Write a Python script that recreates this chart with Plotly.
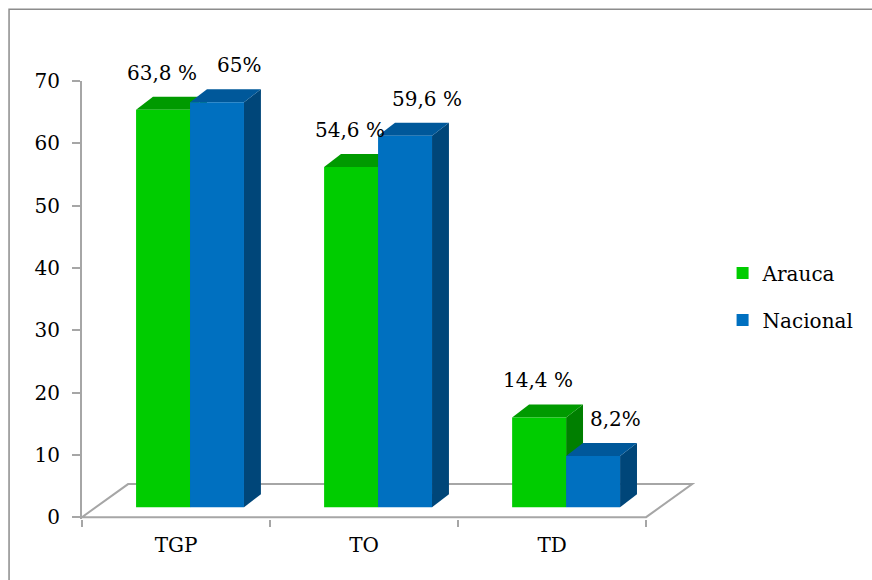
import plotly.graph_objects as go

# Labour-market rates: Arauca vs national average
categories = ["TGP", "TO", "TD"]
arauca = [63.8, 54.6, 14.4]
nacional = [65.0, 59.6, 8.2]
arauca_labels = ["63,8 %", "54,6 %", "14,4 %"]
nacional_labels = ["65%", "59,6 %", "8,2%"]
y_ticks = [0, 10, 20, 30, 40, 50, 60, 70]

FONT = "DejaVu Serif"
FSIZE = 20

# pseudo-3D geometry (axis units)
BAR_W = 0.287          # width of one bar face, in category units
SHIFT = 0.0745         # bars sit mid-depth on the floor, shifted right
LIFT = 1.6             # ... and lifted up (value units)
DX, DY = 0.09, 2.09    # bar depth projection
FDX, FDY = 0.245, 5.3  # floor depth projection

series = [
    dict(name="Arauca", values=arauca, labels=arauca_labels, offset=SHIFT - BAR_W,
         front="#00CC00", top="#009A00", side="#007F00", label_dx=-1),
    dict(name="Nacional", values=nacional, labels=nacional_labels, offset=SHIFT,
         front="#0070C0", top="#00589A", side="#004679", label_dx=22),
]

fig = go.Figure()
shapes = []
annotations = []

# floor parallelogram
n = len(categories)
fx0, fx1 = -0.5, n - 0.5
shapes.append(dict(
    type="path", xref="x", yref="y", layer="below",
    path=f"M{fx0},0 L{fx1},0 L{fx1 + FDX},{FDY} L{fx0 + FDX},{FDY} Z",
    line=dict(color="#A6A6A6", width=2), fillcolor="rgba(0,0,0,0)",
))

for s in series:
    fig.add_trace(go.Bar(
        x=categories, y=s["values"], base=LIFT, width=BAR_W, offset=s["offset"],
        name=s["name"], legendgroup=s["name"],
        marker=dict(color=s["front"], line=dict(width=0)),
        hoverinfo="skip",
    ))
    for i, (v, lab) in enumerate(zip(s["values"], s["labels"])):
        x0 = i + s["offset"]
        x1 = x0 + BAR_W
        y0 = LIFT
        y1 = LIFT + v
        # side face
        shapes.append(dict(
            type="path", xref="x", yref="y", layer="below",
            path=f"M{x1},{y0} L{x1 + DX},{y0 + DY} L{x1 + DX},{y1 + DY} L{x1},{y1} Z",
            fillcolor=s["side"], line=dict(width=0),
        ))
        # top face
        shapes.append(dict(
            type="path", xref="x", yref="y", layer="below",
            path=f"M{x0},{y1} L{x1},{y1} L{x1 + DX},{y1 + DY} L{x0 + DX},{y1 + DY} Z",
            fillcolor=s["top"], line=dict(width=0),
        ))
        annotations.append(dict(
            x=(x0 + x1) / 2, y=y1, xref="x", yref="y",
            text=lab, showarrow=False, yanchor="middle",
            xshift=s["label_dx"], yshift=37,
            font=dict(family=FONT, size=FSIZE, color="black"),
        ))

# outer chart border
shapes.append(dict(
    type="rect", xref="paper", yref="paper", layer="above",
    x0=-0.119, x1=1.4, y0=-0.3, y1=1.164,
    line=dict(color="#8C8C8C", width=1.5), fillcolor="rgba(0,0,0,0)",
))

fig.update_layout(
    width=872, height=580,
    margin=dict(l=82, r=177, t=81, b=61, autoexpand=False),
    paper_bgcolor="white", plot_bgcolor="white",
    barmode="overlay",
    shapes=shapes,
    annotations=annotations,
    font=dict(family=FONT, size=FSIZE, color="black"),
    legend=dict(
        x=1.045, xanchor="left", y=0.508, yanchor="middle",
        font=dict(family=FONT, size=FSIZE, color="black"),
        traceorder="grouped", tracegroupgap=18,
        bgcolor="rgba(0,0,0,0)",
    ),
    xaxis=dict(
        type="category", categoryorder="array", categoryarray=categories,
        range=[-0.5, 2.76], showline=False, showgrid=False, zeroline=False,
        ticks="outside", tickson="boundaries", ticklen=7, tickwidth=2,
        tickcolor="#A6A6A6", ticklabelstandoff=12,
        tickfont=dict(family=FONT, size=FSIZE, color="black"),
    ),
    yaxis=dict(
        range=[-0.3, 70], tickvals=y_ticks, showgrid=False, zeroline=False,
        showline=True, linecolor="#A6A6A6", linewidth=2,
        ticks="outside", ticklen=8, tickwidth=2, tickcolor="#A6A6A6",
        ticklabelstandoff=8,
        tickfont=dict(family=FONT, size=FSIZE, color="black"),
    ),
)

fig.write_html("out.html")
